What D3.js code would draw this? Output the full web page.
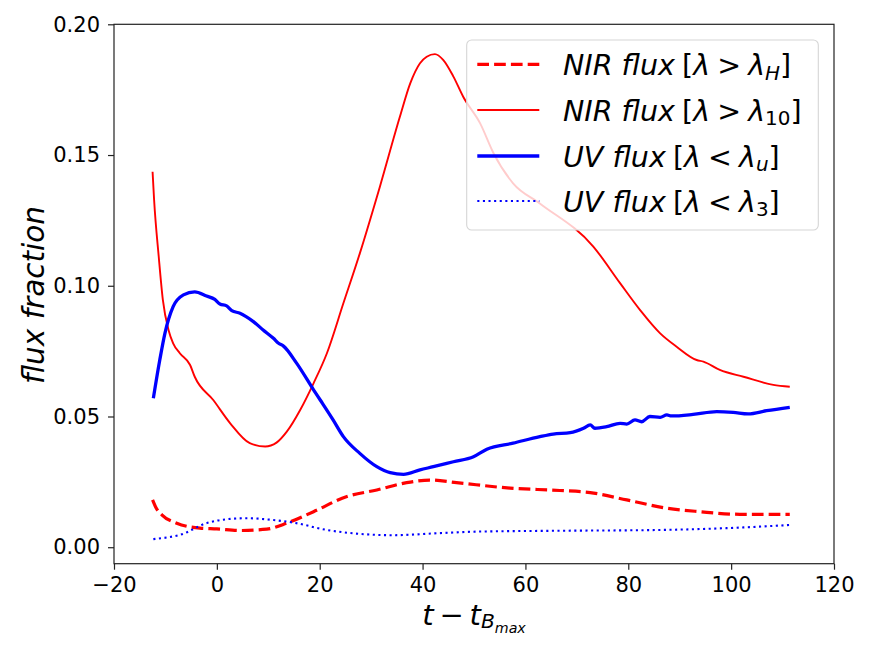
<!DOCTYPE html>
<html><head><meta charset="utf-8">
<script src="https://cdn.jsdelivr.net/npm/d3@7"></script>
<style>body{margin:0;background:#fff} svg{display:block} text{font-family:"DejaVu Sans",sans-serif;fill:#000}</style>
</head><body><svg id="c" width="872" height="654"></svg>
<script>
// ---- data ----
const nirH_t = [-12.5,-11.8,-10.7,-7.8,-3.3,0,4.5,9.7,13.6,18.8,25.3,31.1,36.9,41.4,46.6,57,66.7,72.6,79.7,87.5,93.9,101.7,111.4];
const nirH_v = [0.0181,0.0150,0.0124,0.0092,0.0073,0.0070,0.0064,0.0069,0.0092,0.0136,0.0194,0.0219,0.0247,0.0257,0.0247,0.0226,0.0217,0.0209,0.0181,0.0149,0.0136,0.0126,0.0126];

const nir10_t = [-12.5,-12.2,-11.3,-10.5,-9.4,-8.5,-7.2,-5.2,-4.3,-0.7,2.6,6.4,9.4,11.6,13.6,16.2,18.8,21.4,24.6,27.8,31.7,35.6,37.6,39.5,40.8,42.4,44.0,46.0,47.9,51.2,53.8,57.6,62.8,73.2,78.4,82.3,86.2,89.4,93.3,94.6,97.8,102.4,108.2,111.4];
const nir10_v = [0.1436,0.1328,0.1111,0.0946,0.0831,0.0780,0.0742,0.0697,0.0652,0.0563,0.0474,0.0398,0.0385,0.0400,0.0442,0.0525,0.0627,0.0742,0.0933,0.1124,0.1379,0.1647,0.1774,0.1851,0.1876,0.1886,0.1864,0.1800,0.1723,0.1621,0.1507,0.1392,0.1315,0.1150,0.1010,0.0907,0.0818,0.0767,0.0716,0.0710,0.0678,0.0652,0.0621,0.0614];

const uvU_t = [-12.35,-11.1,-10.1,-8.5,-6.5,-4.3,-2.0,-0.4,0.6,1.9,2.9,4.5,7.1,9.0,11.0,12.0,12.9,15.5,18.8,20.1,22.6,24.6,27.8,31.1,33.7,36.3,39.5,42.1,46.0,49.9,52.5,57.6,62.8,65.4,68.7,71.3,72.6,73.5,75.8,78.4,79.7,81.3,82.6,84.2,86.2,87.5,88.4,92.6,97.2,100.4,103.3,106.9,111.4];
const uvU_v = [0.0570,0.0716,0.0818,0.0920,0.0965,0.0977,0.0961,0.0948,0.0930,0.0923,0.0905,0.0895,0.0863,0.0831,0.0799,0.0780,0.0770,0.0704,0.0602,0.0563,0.0487,0.0423,0.0359,0.0308,0.0285,0.0279,0.0296,0.0308,0.0327,0.0346,0.0375,0.0398,0.0423,0.0433,0.0438,0.0455,0.0468,0.0455,0.0461,0.0474,0.0471,0.0487,0.0480,0.0500,0.0497,0.0506,0.0502,0.0508,0.0519,0.0516,0.0510,0.0522,0.0535];

const uv3_t = [-12.35,-9.8,-7.2,-2.0,1.9,5.8,11.0,14.9,21.4,27.8,34.3,43.4,51.2,66.7,86.2,99.1,111.4];
const uv3_v = [0.0031,0.0037,0.0047,0.0092,0.0107,0.0111,0.0104,0.0094,0.0066,0.0051,0.0046,0.0054,0.0060,0.0063,0.0066,0.0073,0.0085];

const xTicks = [-20,0,20,40,60,80,100,120];
const yTicks = [0,0.05,0.10,0.15,0.20];

const legendMain = ["NIR flux","NIR flux","UV flux","UV flux"];
const legendRel  = [">",">","<","<"];
const legendSub  = ["H","10","u","3"];

// ---- drawing ----
const svg = d3.select("#c");
const L=114, R=834, T=24.3, B=563.7;
const x = d3.scaleLinear().domain([-20,120]).range([L,R]);
const y = d3.scaleLinear().domain([-0.0063,0.20]).range([B,T]);

const series = [
  {t:nirH_t, v:nirH_v, color:"#ff0000", w:3.2, dash:"11.7,5.1"},
  {t:nir10_t, v:nir10_v, color:"#ff0000", w:1.9, dash:null},
  {t:uvU_t, v:uvU_v, color:"#0000ff", w:3.3, dash:null},
  {t:uv3_t, v:uv3_v, color:"#0000ff", w:2.1, dash:"2.1,3.5"}
];

const line = d3.line().x(d=>x(d[0])).y(d=>y(d[1])).curve(d3.curveMonotoneX);
series.forEach(s=>{
  const pts = s.t.map((t,i)=>[t,s.v[i]]);
  svg.append("path").attr("d",line(pts)).attr("fill","none")
    .attr("stroke",s.color).attr("stroke-width",s.w)
    .attr("stroke-dasharray",s.dash).attr("stroke-linejoin","round");
});

// axes
const fmtX = d => d<0 ? "\u2212"+Math.abs(d) : String(d);
const gx = svg.append("g").attr("transform",`translate(0,${B})`)
  .call(d3.axisBottom(x).tickValues(xTicks).tickFormat(fmtX).tickSize(6).tickPadding(7));
const gy = svg.append("g").attr("transform",`translate(${L},0)`)
  .call(d3.axisLeft(y).tickValues(yTicks).tickFormat(d3.format(".2f")).tickSize(6).tickPadding(8));
[gx,gy].forEach(g=>{
  g.select(".domain").remove();
  g.selectAll("line").attr("stroke","#222").attr("stroke-width",1.2);
  g.selectAll("text").style("font-size","21px").style("font-family","DejaVu Sans").attr("fill","#000");
});
svg.append("rect").attr("x",L).attr("y",T).attr("width",R-L).attr("height",B-T)
  .attr("fill","none").attr("stroke","#222").attr("stroke-width",1.2);

// math-like text helper: parts = [text, italic, shiftEm, scale]
function mtext(g, parts, fs){
  const t = g.append("text").style("font-size",fs+"px");
  let cur = 0;
  parts.forEach(p=>{
    const sh = (p[2]||0)*fs, sc = p[3]||1;
    t.append("tspan").text(p[0])
      .style("font-style",p[1]?"italic":"normal")
      .style("font-size",(fs*sc)+"px")
      .attr("dy",(sh-cur)+"px");
    cur = sh;
  });
  return t;
}

// axis labels
const xl = svg.append("g").attr("transform","translate(474,625)");
mtext(xl,[["t\u2009\u2212\u2009t",true],["B",true,0.1,0.7],["max",true,0.27,0.49]],29).attr("text-anchor","middle");
const yl = svg.append("g").attr("transform","translate(44,295) rotate(-90)");
mtext(yl,[["flux fraction",true]],29.5).attr("text-anchor","middle");

// legend
const lg = svg.append("g");
lg.append("rect").attr("x",466.7).attr("y",40).attr("width",351.6).attr("height",190).attr("rx",5)
  .attr("fill","#fff").attr("fill-opacity",0.8).attr("stroke","#d5d5d5").attr("stroke-width",1.1);
const rowY = [64.3,110,156,201];
series.forEach((s,i)=>{
  lg.append("line").attr("x1",477.3).attr("x2",539.3).attr("y1",rowY[i]).attr("y2",rowY[i])
    .attr("stroke",s.color).attr("stroke-width",s.w).attr("stroke-dasharray",s.dash);
  const g = lg.append("g").attr("transform",`translate(563,${rowY[i]+10.5})`);
  const subIt = /[A-Za-z]/.test(legendSub[i]);
  mtext(g,[[legendMain[i]+"\u2005",true],["[",false],["λ",true],["\u2005"+legendRel[i]+"\u2005",false],["λ",true],
    [legendSub[i],subIt,0.17,0.7],["]",false]],28.5);
});
</script></body></html>
